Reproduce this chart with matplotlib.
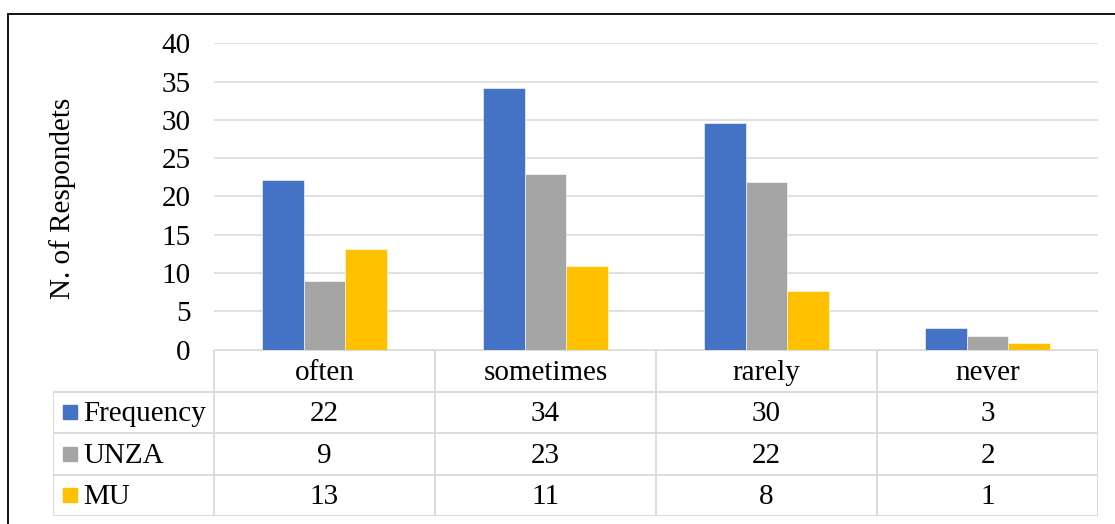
import matplotlib

matplotlib.use("Agg")
import matplotlib.pyplot as plt
import numpy as np
from matplotlib.patches import Rectangle

categories = ["often", "sometimes", "rarely", "never"]
series_names = ["Frequency", "UNZA", "MU"]
frequency = [22.1, 34.1, 29.6, 2.8]
unza = [8.9, 22.9, 21.9, 1.8]
mu = [13.1, 10.9, 7.6, 0.8]
y_ticks = [0, 5, 10, 15, 20, 25, 30, 35, 40]

COLORS = ("#4472C4", "#A5A5A5", "#FFC000")
GRID = "#D9D9D9"

W, H = 1115, 524
plt.rcParams["font.family"] = ["Liberation Serif", "DejaVu Serif"]
plt.rcParams["font.size"] = 21

figure = plt.figure(figsize=(W / 100, H / 100), dpi=100)

# outer frame of the chart (right and bottom edges are cropped off)
figure.patches.append(
    Rectangle((8 / W, -0.1), 1.2, 1.1 - 14 / H, transform=figure.transFigure,
              fill=False, edgecolor="black", linewidth=1.3)
)

# bar area
left, right, top, zero = 214, 1098, 43.3, 349.5
axis = figure.add_axes([left / W, 1 - zero / H, (right - left) / W, (zero - top) / H])
positions = np.arange(len(categories))
width = 0.19
for offset, values, color in zip((-1, 0, 1), (frequency, unza, mu), COLORS):
    axis.bar(positions + offset * width, values, width, color=color,
             edgecolor="white", linewidth=0.4, zorder=3)
axis.set_xlim(-0.5, len(categories) - 0.5)
axis.set_ylim(0, 40)
axis.set_yticks(y_ticks)
axis.set_xticks([])
axis.tick_params(axis="y", length=0, pad=17)
axis.grid(axis="y", color=GRID, linewidth=1.1, zorder=0)
for spine in axis.spines.values():
    spine.set_visible(False)
figure.text(63 / W, 1 - 198 / H, "N. of Respondets", rotation=90, ha="center", va="center")

# data table under the bars
table_top, table_bottom, label_left = 350, 516, 53
label_w = (left - label_left) / ((right - left) / len(categories))
table = figure.add_axes([label_left / W, 1 - table_bottom / H,
                         (right - label_left) / W, (table_bottom - table_top) / H])
table.set_xlim(-0.5 - label_w, len(categories) - 0.5)
table.set_ylim(4, 0)
table.axis("off")
x0, x1 = -0.5 - label_w, len(categories) - 0.5
line_kw = dict(color=GRID, linewidth=1.3, solid_capstyle="butt")
table.plot([-0.5, x1], [0, 0], **line_kw)
for row in range(1, 5):
    table.plot([x0, x1], [row, row], **line_kw)
table.plot([x0, x0], [1, 4], **line_kw)
for edge in np.arange(len(categories) + 1) - 0.5:
    table.plot([edge, edge], [0, 4], **line_kw)

for index, name in enumerate(categories):
    table.text(index, 0.55, name, ha="center", va="center")
for row, (name, values, color) in enumerate(zip(series_names, (frequency, unza, mu), COLORS), start=1):
    table.plot([-0.5 - 144.5 / 221], [row + 0.5], marker="s", markersize=10.5,
               color=color, linestyle="none")
    table.text(-0.5 - 131 / 221, row + 0.55, name, ha="left", va="center")
    for index, value in enumerate(values):
        table.text(index, row + 0.55, f"{value:.0f}", ha="center", va="center")

figure.savefig("out.png", dpi=100)
plt.close(figure)
